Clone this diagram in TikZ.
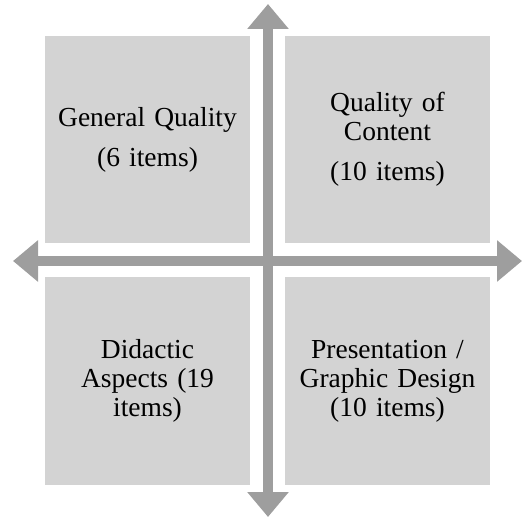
\documentclass[tikz,border=0pt]{standalone}
\usepackage{fontspec}
\setmainfont{Liberation Serif}
\usetikzlibrary{arrows.meta}
\definecolor{quadgray}{RGB}{211,211,211}
\definecolor{axisgray}{RGB}{158,158,158}

\begin{document}
\begin{tikzpicture}[x=1pt, y=-1pt,
                quad/.style = {fill = quadgray, minimum width = 205pt, minimum height = 207pt, inner sep = 0pt,
                               text width = 195pt, align = center, font = \fontsize{27.5}{29}\selectfont},
                axis/.style = {draw = axisgray, line width = 10pt, {Triangle[width=40pt, length=25pt]}-{Triangle[width=40pt, length=25pt]}}]
                \useasboundingbox (0,0) rectangle (527,518);
                \coordinate (top) at (268,4);
                \coordinate (bottom) at (268,517);
                \coordinate (left) at (13,261);
                \coordinate (right) at (522,261);
                \draw[axis] (left) -- (right);
                \draw[axis] (bottom) -- (top);
                \node[quad] (general) at (147.5,139.5) {General Quality\\[11pt](6 items)};
                \node[quad] (content) at (387.5,139.5) {Quality of\\Content\\[11pt](10 items)};
                \node[quad] (didactic) at (147.5,381) {Didactic\\Aspects (19\\items)};
                \node[quad] (design) at (387.5,381) {Presentation /\\Graphic Design\\(10 items)};
                %\draw[axis] (general) -- (design);
                \end{tikzpicture}
\end{document}
